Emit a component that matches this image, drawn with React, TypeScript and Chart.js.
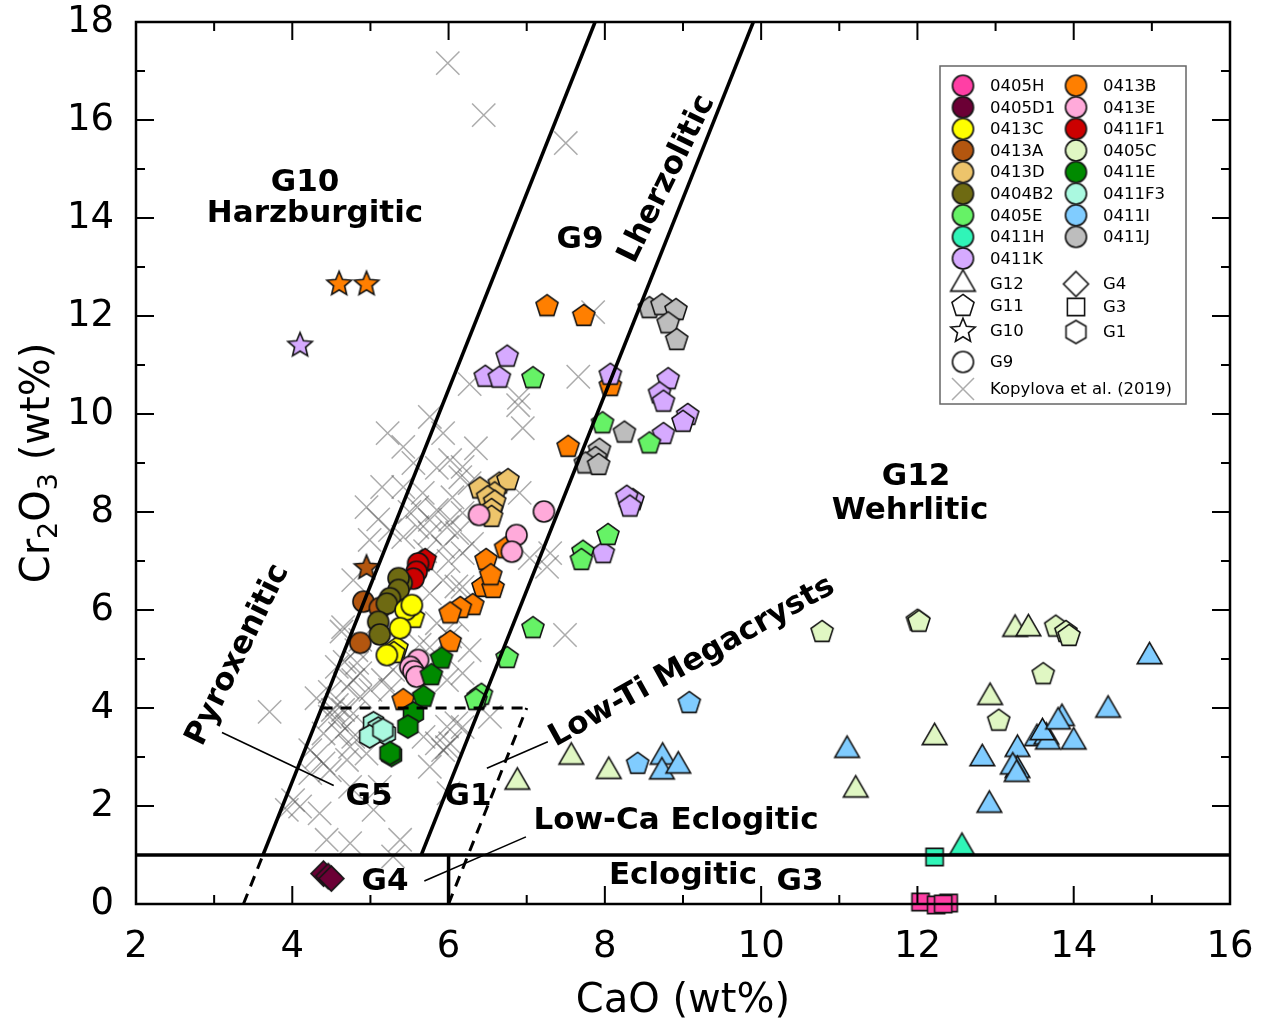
import React, { useEffect, useRef } from "react";
import { Chart, registerables } from "chart.js";

Chart.register(...registerables);

type P = [number, number];
type Shape = "circle" | "pentagon" | "hexagon" | "triangle" | "star" | "diamond" | "square";

// ---------------- axes ----------------
const X_MIN = 2;
const X_MAX = 16;
const X_STEP = 2;
const Y_MIN = 0;
const Y_MAX = 18;
const Y_STEP = 2;

// ---------------- samples (legend) ----------------
const sampleNames = [
  "0405H", "0405D1", "0413C", "0413A", "0413D", "0404B2", "0405E", "0411H", "0411K",
  "0413B", "0413E", "0411F1", "0405C", "0411E", "0411F3", "0411I", "0411J",
];
const sampleColors = [
  "#FF3FA5", "#6B0035", "#FFFF00", "#B3560F", "#EDC46B", "#6E6A12", "#66F266", "#30F5B8", "#D6AAFF",
  "#FF7F00", "#FFAADA", "#CC0000", "#E0F7C3", "#008A00", "#AAF9E0", "#80CCFF", "#BDBDBD",
];
const shapeLegendNames = ["G12", "G11", "G10", "G9", "G4", "G3", "G1"];
const shapeLegendShapes: Shape[] = ["triangle", "pentagon", "star", "circle", "diamond", "square", "hexagon"];
const kopylovaLabel = "Kopylova et al. (2019)";

// ---------------- data (CaO, Cr2O3) ----------------
const s0405H_G3: P[] = [[12.04, 0.04], [12.24, -0.02], [12.4, 0.02], [12.33, 0.0]];
const s0405D1_G4: P[] = [[4.4, 0.62], [4.46, 0.57], [4.5, 0.52]];
const s0411H_G3: P[] = [[12.22, 0.96]];
const s0411H_G12: P[] = [[12.57, 1.16]];
const s0411I_G11: P[] = [[9.08, 4.1], [8.42, 2.86]];
const s0411I_G12: P[] = [
  [8.74, 3.0], [8.73, 2.7], [8.94, 2.82], [11.1, 3.14], [12.83, 2.97], [12.92, 2.02],
  [13.28, 3.16], [13.28, 2.73], [13.22, 2.8], [13.27, 2.65], [13.53, 3.38], [13.65, 3.41],
  [13.67, 3.31], [13.6, 3.5], [13.85, 3.79], [13.8, 3.72], [14.0, 3.31], [14.44, 3.96], [14.97, 5.05],
];
const s0405C_G11: P[] = [
  [10.78, 5.55], [12.0, 5.78], [12.02, 5.76], [13.77, 5.66], [13.9, 5.55], [13.94, 5.47],
  [13.61, 4.69], [13.04, 3.74],
];
const s0405C_G12: P[] = [
  [13.25, 5.61], [13.42, 5.62], [12.93, 4.22], [12.22, 3.4], [11.21, 2.33], [7.57, 3.0],
  [8.05, 2.71], [6.88, 2.49],
];
const s0405E_G11: P[] = [
  [7.08, 10.73], [7.97, 9.81], [8.57, 9.4], [8.04, 7.53], [7.72, 7.19], [7.7, 7.02],
  [7.08, 5.63], [6.75, 5.02], [6.38, 4.22], [6.42, 4.27], [6.35, 4.16],
];
const s0411K_G11: P[] = [
  [6.75, 11.17], [6.47, 10.76], [6.65, 10.74], [8.07, 10.8], [8.81, 10.71], [8.7, 10.42],
  [8.75, 10.25], [9.06, 9.98], [9.0, 9.84], [8.75, 9.59], [8.36, 8.24], [8.28, 8.31],
  [8.32, 8.11], [7.98, 7.16],
];
const s0411K_G10: P[] = [[4.1, 11.4]];
const s0411J_G11: P[] = [
  [8.57, 12.16], [8.73, 12.22], [8.91, 12.12], [8.81, 11.85], [8.92, 11.51], [8.25, 9.62],
  [7.93, 9.27], [7.88, 9.1], [7.75, 8.99], [7.92, 8.96],
];
const s0413B_G11: P[] = [
  [7.26, 12.2], [7.73, 12.0], [8.07, 10.57], [7.53, 9.33], [6.73, 7.26], [6.48, 7.02],
  [6.44, 6.47], [6.57, 6.45], [6.54, 6.71], [6.31, 6.1], [6.15, 6.04], [6.02, 5.93],
  [6.02, 5.35], [5.42, 4.16],
];
const s0413B_G10: P[] = [[4.6, 12.65], [4.95, 12.65]];
const s0413D_G11: P[] = [
  [6.4, 8.48], [6.65, 8.58], [6.76, 8.65], [6.59, 8.38], [6.5, 8.3], [6.59, 8.21],
  [6.55, 8.04], [6.55, 7.9],
];
const s0413E_G9: P[] = [
  [7.22, 8.01], [6.87, 7.53], [6.39, 7.94], [6.81, 7.19], [5.61, 4.98], [5.51, 4.84],
  [5.55, 4.75], [5.59, 4.64],
];
const s0411E_G11: P[] = [[5.91, 5.01], [5.78, 4.67], [5.68, 4.23]];
const s0411E_G1: P[] = [[5.55, 3.89], [5.48, 3.62], [5.27, 3.04], [5.25, 3.08]];
const s0411F3_G1: P[] = [[5.04, 3.69], [5.1, 3.58], [5.19, 3.48], [4.99, 3.42], [5.16, 3.55]];
const s0411F1_G9: P[] = [[5.61, 6.95], [5.59, 6.78], [5.55, 6.64]];
const s0411F1_G11: P[] = [[5.66, 6.99], [5.7, 7.02]];
const s0404B2_G9: P[] = [
  [5.4, 6.55], [5.36, 6.65], [5.36, 6.41], [5.25, 6.24], [5.21, 6.13], [5.1, 5.76], [5.12, 5.5],
];
const s0413A_G9: P[] = [[4.91, 6.17], [5.12, 6.04], [4.87, 5.33]];
const s0413A_G10: P[] = [[4.95, 6.86]];
const s0413C_G9: P[] = [[5.45, 6.0], [5.53, 6.1], [5.38, 5.63], [5.21, 5.08]];
const s0413C_G11: P[] = [[5.55, 5.84], [5.34, 5.22], [5.3, 5.12]];

const kopylova: P[] = [
  [5.99, 17.16], [6.45, 16.1], [7.5, 15.53], [7.85, 12.08], [7.66, 10.76], [6.27, 10.61],
  [6.9, 10.33], [6.95, 9.71], [6.89, 10.18], [5.22, 9.61], [5.42, 9.33], [5.76, 9.94],
  [5.93, 9.61], [5.15, 8.51], [5.42, 8.51], [5.67, 8.39], [6.02, 9.06], [6.18, 8.92],
  [6.15, 8.71], [6.27, 8.59], [5.6, 8.1], [5.85, 8.04], [5.76, 7.84], [6.02, 7.84],
  [6.18, 7.98], [5.6, 7.69], [5.98, 7.69], [4.99, 7.43], [5.25, 7.63], [5.42, 7.49],
  [5.76, 7.57], [5.93, 7.29], [6.11, 7.57], [6.18, 7.16], [4.78, 6.61], [5.93, 6.61],
  [6.18, 6.47], [6.11, 5.8], [5.85, 5.73], [4.65, 5.65], [5.76, 5.24], [4.83, 4.92],
  [6.18, 4.71], [5.98, 4.57], [6.18, 3.61], [5.98, 3.2], [4.57, 4.84], [7.04, 7.06],
  [7.3, 7.16], [7.26, 6.88], [7.49, 5.49], [6.91, 8.39], [4.95, 8.1], [5.1, 7.85],
  [3.71, 3.92], [4.63, 5.56], [4.67, 4.94], [4.82, 5.18], [4.87, 4.71], [4.31, 4.2],
  [4.48, 4.33], [4.57, 4.06], [4.7, 4.43], [4.57, 3.76], [4.7, 3.62], [4.48, 3.82],
  [4.78, 3.89], [4.87, 4.23], [5.0, 4.37], [4.31, 3.01], [4.4, 2.87], [4.23, 2.67],
  [4.48, 2.73], [4.7, 2.94], [4.74, 3.21], [4.95, 3.07], [4.01, 2.12], [3.93, 1.92],
  [4.1, 1.99], [4.35, 1.85], [4.74, 2.39], [5.04, 1.92], [4.74, 1.24], [4.44, 1.31],
  [5.12, 2.39], [5.38, 1.31], [5.29, 0.97], [5.68, 3.41], [5.85, 3.28], [5.93, 3.14],
  [5.98, 3.62], [6.02, 3.28], [6.53, 3.82], [6.1, 3.69], [5.76, 2.8], [6.0, 2.26],
  [5.29, 4.78], [5.25, 4.37], [5.16, 4.57], [4.78, 4.57], [4.87, 5.39], [5.76, 6.34],
  [6.02, 5.46], [6.27, 5.18], [5.63, 5.29], [6.1, 6.48], [4.52, 3.96], [4.65, 3.96],
  [4.61, 3.48], [4.4, 3.48], [4.23, 3.14], [4.78, 3.41], [5.85, 8.9], [6.05, 8.3],
  [5.5, 8.0], [6.3, 7.35], [5.7, 7.2], [6.0, 7.0], [5.55, 9.0], [6.35, 9.3],
];

// ---------------- classification boundaries (data units) ----------------
const boundaryLines: { pts: P[]; dashed: boolean }[] = [
  { pts: [[3.625, 1], [7.875, 18]], dashed: false },
  { pts: [[3.375, 0], [3.625, 1]], dashed: true },
  { pts: [[5.65, 1], [9.9, 18]], dashed: false },
  { pts: [[6.0, 0], [7.0, 4]], dashed: true },
  { pts: [[4.375, 4], [7.0, 4]], dashed: true },
  { pts: [[2, 1], [16, 1]], dashed: false },
  { pts: [[6, 0], [6, 1]], dashed: false },
];
const pointerLines: P[][] = [
  [[3.1, 3.5], [4.53, 2.42]],
  [[6.49, 2.77], [7.27, 3.31]],
  [[6.99, 1.37], [5.69, 0.47]],
];

const FONT = "'DejaVu Sans', Verdana, sans-serif";

function makeMarker(shape: Shape, fill: string): HTMLCanvasElement {
  const radii: Record<Shape, number> = {
    circle: 10.5, pentagon: 11.6, hexagon: 11.5, triangle: 14.2, star: 12.8, diamond: 12.5, square: 8.6,
  };
  const R = radii[shape];
  const size = Math.ceil(2 * R + 6);
  const c = document.createElement("canvas");
  c.width = size;
  c.height = size;
  const ctx = c.getContext("2d")!;
  const cx = size / 2;
  const cy = size / 2;
  const poly = (n: number, r: number, start: number) => {
    for (let i = 0; i < n; i++) {
      const a = ((start + (360 / n) * i) * Math.PI) / 180;
      const px = cx + r * Math.cos(a);
      const py = cy + r * Math.sin(a);
      if (i === 0) ctx.moveTo(px, py);
      else ctx.lineTo(px, py);
    }
  };
  ctx.beginPath();
  if (shape === "circle") ctx.arc(cx, cy, R, 0, Math.PI * 2);
  else if (shape === "pentagon") poly(5, R, -90);
  else if (shape === "hexagon") poly(6, R, -90);
  else if (shape === "triangle") poly(3, R, -90);
  else if (shape === "diamond") poly(4, R, -90);
  else if (shape === "square") ctx.rect(cx - R, cy - R, 2 * R, 2 * R);
  else if (shape === "star") {
    for (let i = 0; i < 10; i++) {
      const r = i % 2 === 0 ? R : R * 0.45;
      const a = ((-90 + 36 * i) * Math.PI) / 180;
      const px = cx + r * Math.cos(a);
      const py = cy + r * Math.sin(a);
      if (i === 0) ctx.moveTo(px, py);
      else ctx.lineTo(px, py);
    }
  }
  ctx.closePath();
  ctx.fillStyle = fill;
  ctx.fill();
  ctx.lineWidth = 1.6;
  ctx.strokeStyle = "#151515";
  ctx.lineJoin = "miter";
  ctx.stroke();
  return c;
}

const colorOf = (name: string) => sampleColors[sampleNames.indexOf(name)];

const groups: { sample: string; shape: Shape; pts: P[] }[] = [
  { sample: "0405H", shape: "square", pts: s0405H_G3 },
  { sample: "0405D1", shape: "diamond", pts: s0405D1_G4 },
  { sample: "0411H", shape: "square", pts: s0411H_G3 },
  { sample: "0411H", shape: "triangle", pts: s0411H_G12 },
  { sample: "0411I", shape: "pentagon", pts: s0411I_G11 },
  { sample: "0411I", shape: "triangle", pts: s0411I_G12 },
  { sample: "0405C", shape: "pentagon", pts: s0405C_G11 },
  { sample: "0405C", shape: "triangle", pts: s0405C_G12 },
  { sample: "0413C", shape: "circle", pts: s0413C_G9 },
  { sample: "0413C", shape: "pentagon", pts: s0413C_G11 },
  { sample: "0404B2", shape: "circle", pts: s0404B2_G9 },
  { sample: "0411F1", shape: "circle", pts: s0411F1_G9 },
  { sample: "0411F1", shape: "pentagon", pts: s0411F1_G11 },
  { sample: "0413A", shape: "circle", pts: s0413A_G9 },
  { sample: "0413A", shape: "star", pts: s0413A_G10 },
  { sample: "0411E", shape: "hexagon", pts: s0411E_G1 },
  { sample: "0411E", shape: "pentagon", pts: s0411E_G11 },
  { sample: "0411F3", shape: "hexagon", pts: s0411F3_G1 },
  { sample: "0413E", shape: "circle", pts: s0413E_G9 },
  { sample: "0413D", shape: "pentagon", pts: s0413D_G11 },
  { sample: "0405E", shape: "pentagon", pts: s0405E_G11 },
  { sample: "0411K", shape: "pentagon", pts: s0411K_G11 },
  { sample: "0411K", shape: "star", pts: s0411K_G10 },
  { sample: "0411J", shape: "pentagon", pts: s0411J_G11 },
  { sample: "0413B", shape: "pentagon", pts: s0413B_G11 },
  { sample: "0413B", shape: "star", pts: s0413B_G10 },
];

const regionLabels: { text: string; x: number; y: number; rot: number }[] = [
  { text: "G10", x: 305, y: 183, rot: 0 },
  { text: "Harzburgitic", x: 315, y: 214, rot: 0 },
  { text: "G9", x: 580, y: 240, rot: 0 },
  { text: "Lherzolitic", x: 667, y: 179, rot: -64 },
  { text: "G12", x: 916, y: 477, rot: 0 },
  { text: "Wehrlitic", x: 910, y: 511, rot: 0 },
  { text: "Pyroxenitic", x: 238, y: 655, rot: -64 },
  { text: "Low-Ti Megacrysts", x: 692, y: 662, rot: -29 },
  { text: "G5", x: 369, y: 797, rot: 0 },
  { text: "G1", x: 468, y: 797, rot: 0 },
  { text: "Low-Ca Eclogitic", x: 676, y: 821, rot: 0 },
  { text: "G4", x: 385, y: 882, rot: 0 },
  { text: "Eclogitic", x: 683, y: 876, rot: 0 },
  { text: "G3", x: 800, y: 882, rot: 0 },
];

const overlayPlugin = {
  id: "overlay",
  afterDatasetsDraw(chart: any) {
    const ctx: CanvasRenderingContext2D = chart.ctx;
    const xs = chart.scales.x;
    const ys = chart.scales.y;
    const X = (v: number) => xs.getPixelForValue(v);
    const Y = (v: number) => ys.getPixelForValue(v);
    const { left, right, top, bottom } = chart.chartArea;
    ctx.save();

    // boundaries
    ctx.strokeStyle = "#000";
    ctx.lineCap = "butt";
    for (const b of boundaryLines) {
      ctx.lineWidth = b.dashed ? 3 : 3.5;
      ctx.setLineDash(b.dashed ? [11, 8] : []);
      ctx.beginPath();
      ctx.moveTo(X(b.pts[0][0]), Y(b.pts[0][1]));
      ctx.lineTo(X(b.pts[1][0]), Y(b.pts[1][1]));
      ctx.stroke();
    }
    ctx.setLineDash([]);
    ctx.lineWidth = 1.6;
    for (const p of pointerLines) {
      ctx.beginPath();
      ctx.moveTo(X(p[0][0]), Y(p[0][1]));
      ctx.lineTo(X(p[1][0]), Y(p[1][1]));
      ctx.stroke();
    }

    // frame + inward ticks
    ctx.lineWidth = 2.5;
    ctx.strokeRect(left, top, right - left, bottom - top);
    ctx.lineWidth = 2;
    for (let v = X_MIN; v <= X_MAX; v++) {
      const px = X(v);
      const len = v % 2 === 0 ? 18 : 9;
      ctx.beginPath();
      ctx.moveTo(px, bottom);
      ctx.lineTo(px, bottom - len);
      ctx.moveTo(px, top);
      ctx.lineTo(px, top + len);
      ctx.stroke();
    }
    for (let v = Y_MIN; v <= Y_MAX; v++) {
      const py = Y(v);
      const len = v % 2 === 0 ? 18 : 9;
      ctx.beginPath();
      ctx.moveTo(left, py);
      ctx.lineTo(left + len, py);
      ctx.moveTo(right, py);
      ctx.lineTo(right - len, py);
      ctx.stroke();
    }

    // region labels
    ctx.fillStyle = "#000";
    ctx.font = `bold 31px ${FONT}`;
    ctx.textAlign = "center";
    ctx.textBaseline = "middle";
    for (const l of regionLabels) {
      ctx.save();
      ctx.translate(l.x, l.y);
      ctx.rotate((l.rot * Math.PI) / 180);
      ctx.fillText(l.text, 0, 0);
      ctx.restore();
    }

    // axis titles
    ctx.font = `40px ${FONT}`;
    ctx.textBaseline = "alphabetic";
    ctx.fillText("CaO (wt%)", (left + right) / 2, 1012);

    ctx.save();
    ctx.translate(35, (top + bottom) / 2);
    ctx.rotate(-Math.PI / 2);
    const segs = [
      { t: "Cr", sub: false },
      { t: "2", sub: true },
      { t: "O", sub: false },
      { t: "3", sub: true },
      { t: " (wt%)", sub: false },
    ];
    let total = 0;
    for (const s of segs) {
      ctx.font = s.sub ? `27px ${FONT}` : `40px ${FONT}`;
      total += ctx.measureText(s.t).width;
    }
    let cx = -total / 2;
    ctx.textAlign = "left";
    for (const s of segs) {
      ctx.font = s.sub ? `27px ${FONT}` : `40px ${FONT}`;
      ctx.fillText(s.t, cx, s.sub ? 22 : 14);
      cx += ctx.measureText(s.t).width;
    }
    ctx.restore();

    // legend
    const LX = 940, LY = 66, LW = 246, LH = 338;
    ctx.fillStyle = "#fff";
    ctx.fillRect(LX, LY, LW, LH);
    ctx.strokeStyle = "#666";
    ctx.lineWidth = 1.5;
    ctx.strokeRect(LX, LY, LW, LH);
    ctx.font = `16.5px ${FONT}`;
    ctx.textAlign = "left";
    ctx.textBaseline = "middle";
    const col1M = 963, col2M = 1076, col1T = 990, col2T = 1103;
    const draw = (img: HTMLCanvasElement, x: number, y: number) =>
      ctx.drawImage(img, x - img.width / 2, y - img.height / 2);
    sampleNames.forEach((n, i) => {
      const inFirst = i < 9;
      const row = inFirst ? i : i - 9;
      const y = 85.7 + row * 21.6;
      draw(makeMarker("circle", sampleColors[i]), inFirst ? col1M : col2M, y);
      ctx.fillStyle = "#000";
      ctx.fillText(n, inFirst ? col1T : col2T, y + 1);
    });
    const shapeY = [284, 306, 331, 362, 284, 307, 332];
    shapeLegendNames.forEach((n, i) => {
      const inFirst = i < 4;
      draw(makeMarker(shapeLegendShapes[i], "#fff"), inFirst ? col1M : col2M, shapeY[i]);
      ctx.fillStyle = "#000";
      ctx.fillText(n, inFirst ? col1T : col2T, shapeY[i] + 1);
    });
    ctx.strokeStyle = "rgba(90,90,90,0.5)";
    ctx.lineWidth = 1.5;
    ctx.beginPath();
    ctx.moveTo(col1M - 11, 378);
    ctx.lineTo(col1M + 11, 400);
    ctx.moveTo(col1M + 11, 378);
    ctx.lineTo(col1M - 11, 400);
    ctx.stroke();
    ctx.fillStyle = "#000";
    ctx.fillText(kopylovaLabel, col1T, 390);

    ctx.restore();
  },
};

export default function App() {
  const ref = useRef<HTMLCanvasElement | null>(null);
  useEffect(() => {
    if (!ref.current) return;
    const datasets: any[] = groups.map((g) => ({
      label: `${g.sample} ${g.shape}`,
      data: g.pts.map(([x, y]) => ({ x, y })),
      pointStyle: makeMarker(g.shape, colorOf(g.sample)),
      pointRadius: 11,
      pointHoverRadius: 11,
      clip: false,
      order: 1,
    }));
    datasets.push({
      label: kopylovaLabel,
      data: kopylova.map(([x, y]) => ({ x, y })),
      pointStyle: "crossRot",
      pointRadius: 16.5,
      pointHoverRadius: 16.5,
      pointBorderColor: "rgba(90,90,90,0.5)",
      pointBackgroundColor: "rgba(0,0,0,0)",
      pointBorderWidth: 1.5,
      clip: false,
      order: 100,
    });
    const chart = new Chart(ref.current, {
      type: "scatter",
      data: { datasets },
      options: {
        responsive: false,
        animation: false,
        devicePixelRatio: 1,
        events: [],
        layout: { padding: { top: 22, right: 36, left: 0, bottom: 0 } },
        plugins: { legend: { display: false }, tooltip: { enabled: false }, title: { display: false } },
        scales: {
          x: {
            type: "linear",
            min: X_MIN,
            max: X_MAX,
            afterFit: (s: any) => {
              s.height = 118;
              s.paddingLeft = 0;
              s.paddingRight = 0;
            },
            grid: { display: false },
            border: { display: false },
            ticks: { stepSize: X_STEP, padding: 13, color: "#000", autoSkip: false, maxRotation: 0, font: { family: FONT, size: 37 } },
          },
          y: {
            type: "linear",
            min: Y_MIN,
            max: Y_MAX,
            afterFit: (s: any) => {
              s.width = 136;
              s.paddingTop = 0;
              s.paddingBottom = 0;
            },
            grid: { display: false },
            border: { display: false },
            ticks: { stepSize: Y_STEP, padding: 14, color: "#000", autoSkip: false, font: { family: FONT, size: 37 } },
          },
        },
      } as any,
      plugins: [overlayPlugin],
    });
    return () => chart.destroy();
  }, []);
  return (
    <div style={{ position: "absolute", left: 0, top: 0, width: 1266, height: 1022, background: "#fff" }}>
      <canvas ref={ref} width={1266} height={1022} style={{ display: "block" }} />
    </div>
  );
}
